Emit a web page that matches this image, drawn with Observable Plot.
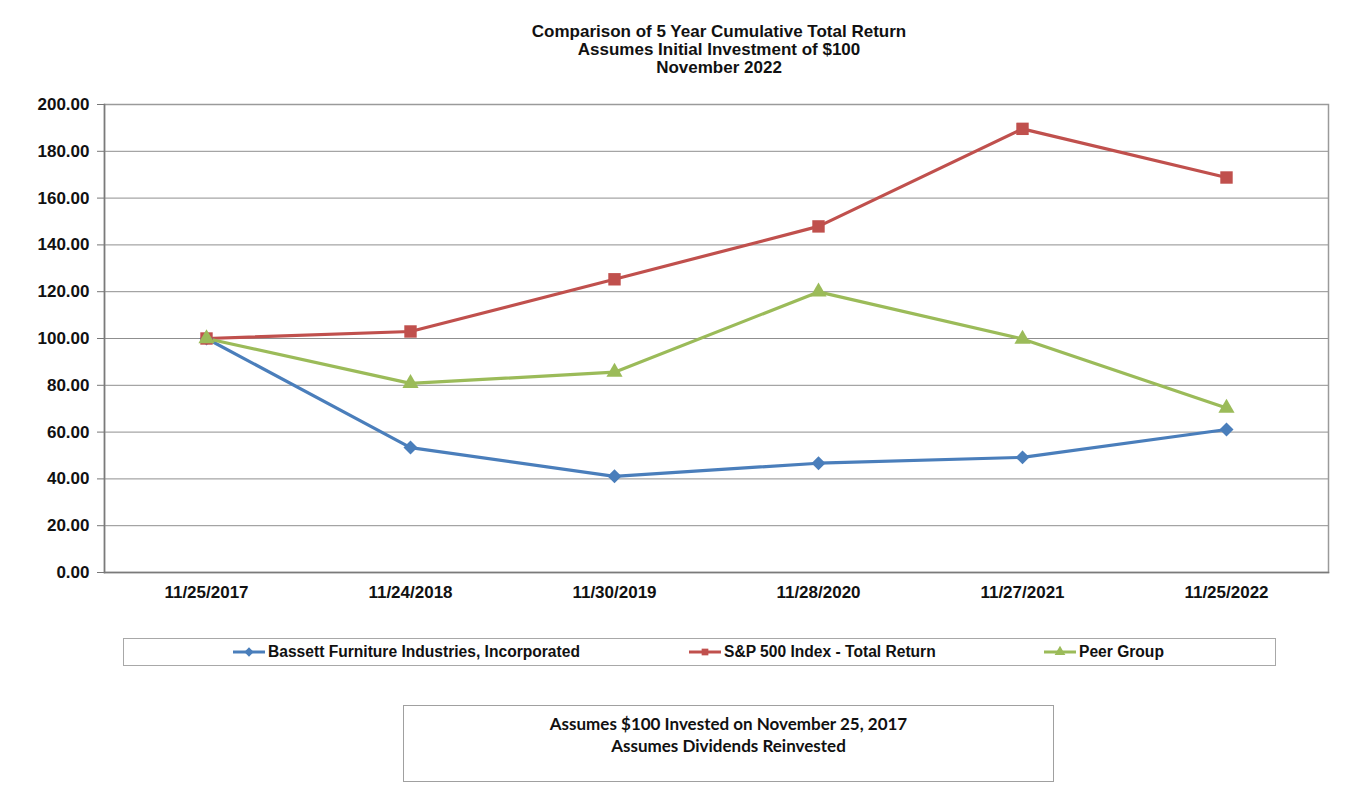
<!DOCTYPE html>
<html>
<head>
<meta charset="utf-8">
<script src="https://cdn.jsdelivr.net/npm/d3@7"></script>
<script src="https://cdn.jsdelivr.net/npm/@observablehq/plot@0.6"></script>
<style>
  html, body { margin: 0; padding: 0; background: #fff; }
  body { width: 1356px; height: 787px; position: relative; overflow: hidden; font-family: "Liberation Sans", Arial, sans-serif; }
  #title { position: absolute; top: 23px; left: 419px; width: 600px; text-align: center; font-weight: bold; font-size: 17px; line-height: 18px; color: #111; }
  #chart { position: absolute; top: 88px; left: 0; }
  #legend { position: absolute; top: 638px; left: 123px; width: 1151px; height: 26px; border: 1px solid #a8a8a8; }
  .item { position: absolute; top: 0; height: 26px; display: flex; align-items: center; font-weight: bold; font-size: 15.6px; color: #111; white-space: nowrap; }
  .item svg { margin-right: 3px; }
  #note { position: absolute; top: 705px; left: 403px; width: 649px; height: 75px; border: 1px solid #a0a0a0; text-align: center; font-family: Lato, "Open Sans", sans-serif; font-weight: bold; font-size: 17px; line-height: 22px; color: #111; }
  #note div:first-child { margin-top: 7px; }
</style>
</head>
<body>
<div id="title">Comparison of 5 Year Cumulative Total Return<br>Assumes Initial Investment of $100<br>November 2022</div>
<div id="chart"></div>
<div id="legend"></div>
<div id="note"><div>Assumes $100 Invested on November 25, 2017</div><div>Assumes Dividends Reinvested</div></div>
<script>
const dates = ["11/25/2017", "11/24/2018", "11/30/2019", "11/28/2020", "11/27/2021", "11/25/2022"];
const seriesNames = ["Bassett Furniture Industries, Incorporated", "S&P 500 Index - Total Return", "Peer Group"];
const bassett = [100.00, 53.4, 41.1, 46.7, 49.2, 61.1];
const sp500 = [100.00, 103.0, 125.3, 147.9, 189.6, 168.8];
const peer = [100.00, 80.8, 85.6, 119.9, 99.8, 70.3];
const yTicks = [0, 20, 40, 60, 80, 100, 120, 140, 160, 180, 200];
const colors = ["#4a7ebb", "#c0504d", "#9bbb59"];
const symbols = ["diamond2", "square", "triangle"];
const radii = [6.3, 7, 6];

const all = [bassett, sp500, peer];
const rows = [];
all.forEach((vals, s) => vals.forEach((v, i) => rows.push({series: seriesNames[s], date: dates[i], value: v})));

const marks = [
  Plot.gridY(yTicks, {stroke: "#8f8f8f", strokeOpacity: 1, strokeWidth: 1}),
  Plot.frame({stroke: "#9a9a9a", strokeWidth: 1.5}),
  Plot.frame({anchor: "left", stroke: "#7a7a7a", strokeWidth: 1.5}),
  Plot.frame({anchor: "bottom", stroke: "#7a7a7a", strokeWidth: 1.5}),
  Plot.axisY(yTicks, {tickFormat: d3.format(".2f"), tickSize: 7, tickPadding: 8, fontSize: 17, fontWeight: "bold", fill: "#111", stroke: "#777"}),
  Plot.axisX({tickSize: 0, tickPadding: 13, fontSize: 17, fontWeight: "bold", fill: "#111"}),
  Plot.line(rows, {x: "date", y: "value", z: "series", stroke: "series", strokeWidth: 3.2}),
];
seriesNames.forEach((name, s) => {
  marks.push(Plot.dot(rows.filter(d => d.series === name), {x: "date", y: "value", fill: "series", symbol: "series", r: radii[s], stroke: null}));
});

const chart = Plot.plot({
  width: 1356,
  height: 520,
  marginTop: 16,
  marginBottom: 36,
  marginLeft: 104,
  marginRight: 28,
  style: {fontFamily: "'Liberation Sans', Arial, sans-serif", background: "#fff"},
  x: {type: "point", domain: dates, label: null, padding: 0.5},
  y: {domain: [0, 200], label: null},
  color: {domain: seriesNames, range: colors},
  symbol: {domain: seriesNames, range: symbols},
  marks
});
document.getElementById("chart").appendChild(chart);

// Legend
const legendPos = [109, 565, 920];
const legendSyms = [d3.symbolDiamond2, d3.symbolSquare, d3.symbolTriangle];
const legendSizes = [55, 45, 50];
const legend = document.getElementById("legend");
const ns = "http://www.w3.org/2000/svg";
seriesNames.forEach((name, s) => {
  const item = document.createElement("div");
  item.className = "item";
  item.style.left = legendPos[s] + "px";
  const svg = document.createElementNS(ns, "svg");
  svg.setAttribute("width", 32); svg.setAttribute("height", 14);
  const line = document.createElementNS(ns, "line");
  line.setAttribute("x1", 0); line.setAttribute("x2", 32); line.setAttribute("y1", 7); line.setAttribute("y2", 7);
  line.setAttribute("stroke", colors[s]); line.setAttribute("stroke-width", 3);
  svg.appendChild(line);
  const path = document.createElementNS(ns, "path");
  path.setAttribute("d", d3.symbol(legendSyms[s], legendSizes[s])());
  path.setAttribute("transform", "translate(16,7)");
  path.setAttribute("fill", colors[s]);
  svg.appendChild(path);
  item.appendChild(svg);
  const t = document.createElement("span"); t.textContent = name;
  item.appendChild(t);
  legend.appendChild(item);
});
</script>
</body>
</html>
